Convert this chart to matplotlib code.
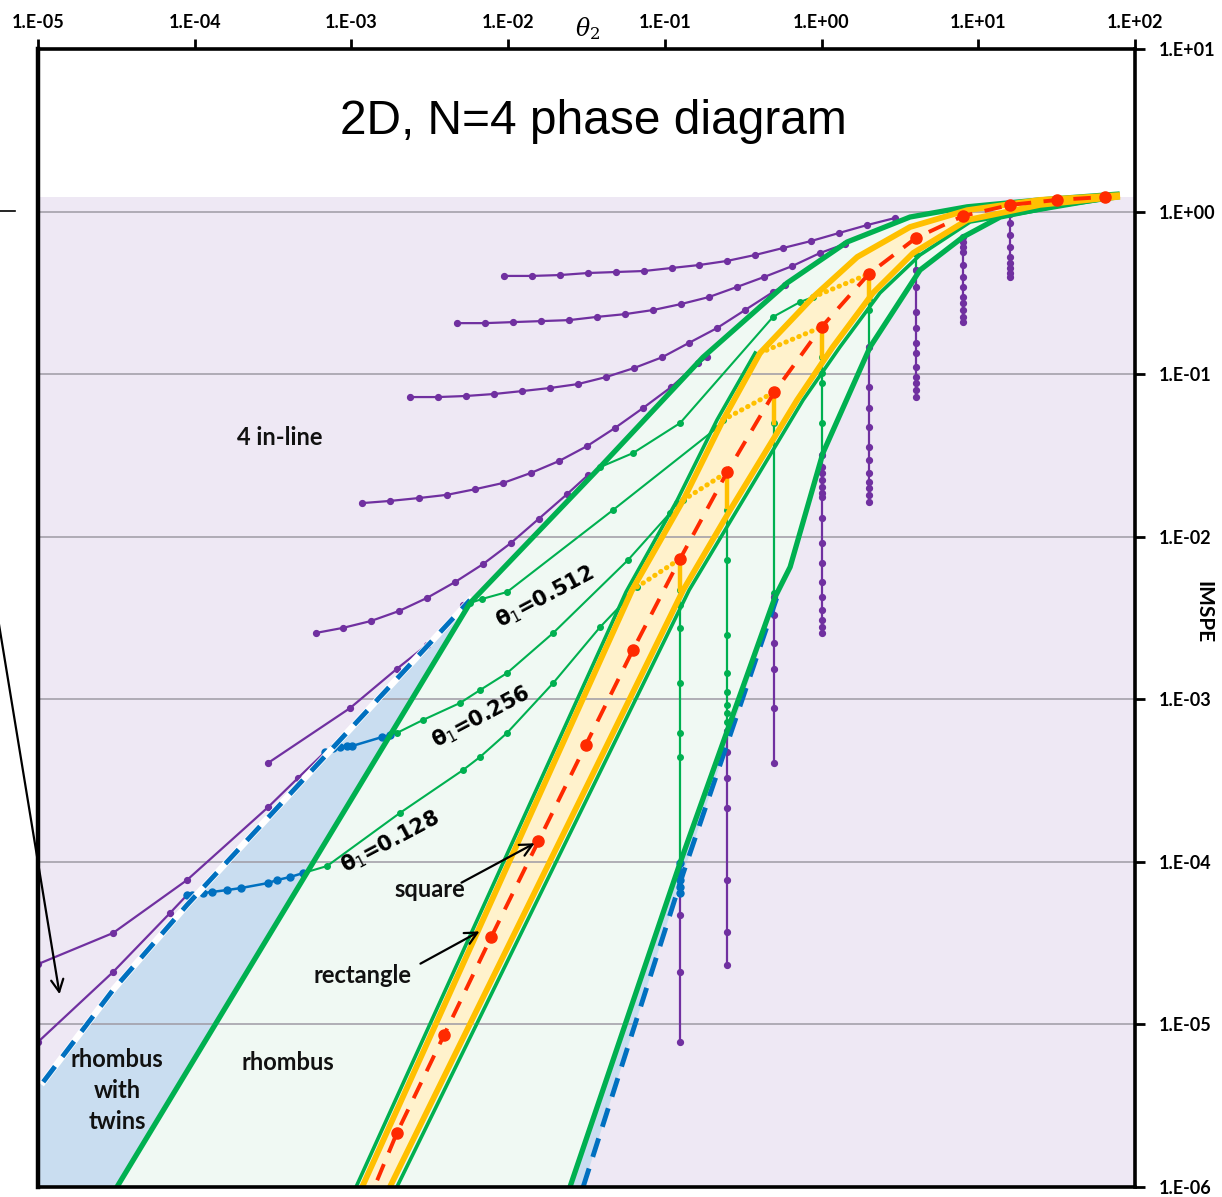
import matplotlib
matplotlib.use("Agg")
import matplotlib.pyplot as plt
import numpy as np

PURPLE = "#7030A0"
GREEN = "#00B050"
BLUE = "#0070C0"
ORANGE = "#FFC000"
RED = "#FF2A00"
LAVENDER = "#EEE8F4"
MINT = "#F0F9F3"
CREAM = "#FFF2CC"
SKY = "#C9DDF0"

# ---- phase boundaries (theta2, IMSPE) ----
g1_t2 = [3.19e-5, 5.71e-3, 3.86e-2, 0.175, 0.603, 1.455, 3.67, 8.49, 24.8, 76.9]
g1_im = [1e-6, 3.91e-3, 2.68e-2, 0.127, 0.364, 0.650, 0.926, 1.07, 1.18, 1.28]
g2_t2 = [2.48e-2, 0.125, 0.505, 0.630, 1.02, 2.04, 4.25, 8.0, 13.8, 33.3, 76.9]
g2_im = [1e-6, 9.84e-5, 4.26e-3, 6.51e-3, 3.27e-2, 0.147, 0.437, 0.698, 0.926, 1.10, 1.23]

# rectangle band
o1_t2 = [1.17e-3, 6.18e-2, 0.131, 0.235, 0.405, 0.883, 1.69, 3.67, 8.49, 24.8, 76.9]
o1_im = [1e-6, 4.70e-3, 1.68e-2, 5.22e-2, 0.135, 0.298, 0.526, 0.804, 1.02, 1.18, 1.26]
o2_t2 = [1.76e-3, 0.131, 0.261, 0.698, 1.18, 2.13, 3.84, 8.49, 24.8, 76.9]
o2_im = [1e-6, 4.70e-3, 1.46e-2, 6.93e-2, 0.147, 0.316, 0.556, 0.887, 1.10, 1.23]
g3_t2 = [1.07e-3, 5.65e-2, 0.120, 0.215, 0.377]
g3_im = [1e-6, 4.57e-3, 1.68e-2, 5.22e-2, 0.135]
g4_t2 = [1.95e-3, 0.143, 0.289, 0.762, 1.31, 2.36, 4.25, 8.87, 76.9]
g4_im = [1e-6, 4.70e-3, 1.46e-2, 6.93e-2, 0.147, 0.316, 0.541, 0.863, 1.23]

# twin boundaries (blue dashed)
dl_t2 = [1.08e-5, 3.01e-5, 8.93e-5, 1.46e-3, 5.71e-3]
dl_im = [4.43e-6, 1.63e-5, 5.43e-5, 9.9e-4, 4.08e-3]
dr_t2 = [3.01e-2, 0.131, 0.520]
dr_im = [1e-6, 8.53e-5, 4.26e-3]

# square solutions
sq_t2 = [0.00195, 0.0039, 0.0078, 0.0156, 0.0313, 0.0625, 0.125, 0.25, 0.5, 1, 2, 4, 8, 16, 32, 64]
sq_im = [2.15e-6, 8.61e-6, 3.45e-5, 1.34e-4, 5.24e-4, 2.01e-3, 7.30e-3, 2.50e-2, 7.76e-2,
         0.195, 0.413, 0.688, 0.94, 1.10, 1.18, 1.23]
sq_start_t2 = 1.46e-3
sq_start_im = 1.10e-6

# rectangle branches (left end, square point, bottom end)
vee_left_t2 = [6.65e-2, 0.131, 0.235, 0.405, 0.883]
vee_left_im = [4.91e-3, 1.68e-2, 5.22e-2, 0.135, 0.298]
vee_t2 = [0.125, 0.25, 0.5, 1, 2]
vee_top_im = [7.30e-3, 2.50e-2, 7.76e-2, 0.195, 0.413]
vee_bot_im = [4.70e-3, 1.52e-2, 5.0e-2, 0.127, 0.286]

# 4 in-line curves (fixed theta1)
c1_t2 = [9.41e-3, 1.42e-2, 2.14e-2, 3.24e-2, 4.89e-2, 7.36e-2, 0.111, 0.165, 0.249, 0.377, 0.568, 0.857, 1.29, 1.95, 2.94]
c1_im = [0.402, 0.402, 0.407, 0.419, 0.425, 0.431, 0.450, 0.469, 0.497, 0.541, 0.597, 0.659, 0.738, 0.826, 0.913]
c2_t2 = [4.72e-3, 7.13e-3, 1.07e-2, 1.62e-2, 2.45e-2, 3.69e-2, 5.57e-2, 8.41e-2, 0.127, 0.191, 0.289, 0.430, 0.649, 0.977, 1.41]
c2_im = [0.206, 0.206, 0.209, 0.212, 0.215, 0.225, 0.234, 0.248, 0.270, 0.298, 0.344, 0.396, 0.462, 0.556, 0.632]
c3_t2 = [2.37e-3, 3.57e-3, 5.38e-3, 8.13e-3, 1.23e-2, 1.85e-2, 2.79e-2, 4.22e-2, 6.35e-2, 9.6e-2, 0.143, 0.215, 0.325, 0.490, 0.585]
c3_im = [7.23e-2, 7.23e-2, 7.34e-2, 7.55e-2, 7.87e-2, 8.22e-2, 8.69e-2, 9.6e-2, 0.109, 0.127, 0.156, 0.192, 0.248, 0.320, 0.353]
c4_t2 = [1.17e-3, 1.76e-3, 2.70e-3, 4.07e-3, 6.15e-3, 9.27e-3, 1.40e-2, 2.11e-2, 3.19e-2, 4.81e-2, 7.26e-2, 0.110, 0.163, 0.186]
c4_im = [1.61e-2, 1.66e-2, 1.73e-2, 1.81e-2, 1.96e-2, 2.14e-2, 2.47e-2, 2.92e-2, 3.61e-2, 4.67e-2, 6.19e-2, 8.34e-2, 0.117, 0.127]
c5_t2 = [5.94e-4, 8.83e-4, 1.33e-3, 2.01e-3, 3.03e-3, 4.58e-3, 6.92e-3, 1.04e-2, 1.57e-2, 2.38e-2, 3.24e-2]
c5_im = [2.56e-3, 2.75e-3, 3.03e-3, 3.49e-3, 4.20e-3, 5.26e-3, 6.79e-3, 9.14e-3, 1.29e-2, 1.83e-2, 2.40e-2]
c6_t2 = [2.94e-4, 9.8e-4, 1.95e-3, 3.03e-3, 5.15e-3]
c6_im = [4.06e-4, 8.83e-4, 1.54e-3, 2.16e-3, 3.80e-3]
c7_t2 = [1.0e-5, 3.01e-5, 8.93e-5, 2.94e-4, 4.56e-4, 6.79e-4]
c7_im = [2.35e-5, 3.65e-5, 7.73e-5, 2.17e-4, 3.28e-4, 4.74e-4]
c8_t2 = [1.0e-5, 3.01e-5, 6.95e-5, 8.93e-5]
c8_im = [7.80e-6, 2.10e-5, 4.84e-5, 6.25e-5]

# rhombus-with-twins parts (blue)
b128_t2 = [8.93e-5, 9.62e-5, 1.13e-4, 1.29e-4, 1.61e-4, 1.97e-4, 2.94e-4, 3.35e-4, 4.06e-4, 4.91e-4]
b128_im = [6.25e-5, 6.25e-5, 6.43e-5, 6.53e-5, 6.71e-5, 6.90e-5, 7.41e-5, 7.73e-5, 8.07e-5, 8.53e-5]
b256_t2 = [6.79e-4, 7.64e-4, 8.45e-4, 9.38e-4, 1.01e-3, 1.57e-3, 1.76e-3]
b256_im = [4.74e-4, 5.01e-4, 5.08e-4, 5.16e-4, 5.16e-4, 5.86e-4, 6.03e-4]

# rhombus parts (thin green)
l128_t2 = [4.91e-4, 6.98e-4, 2.04e-3, 5.15e-3, 6.62e-3, 9.84e-3, 1.94e-2, 3.86e-2, 5.41e-2, 5.74e-2, 6.65e-2]
l128_im = [8.53e-5, 9.42e-5, 2.0e-4, 3.67e-4, 4.42e-4, 6.21e-4, 1.26e-3, 2.78e-3, 3.91e-3, 4.26e-3, 4.91e-3]
l256_t2 = [1.76e-3, 1.95e-3, 2.86e-3, 4.93e-3, 6.62e-3, 9.84e-3, 1.94e-2, 5.82e-2, 0.108, 0.120, 0.131]
l256_im = [6.03e-4, 6.21e-4, 7.46e-4, 9.49e-4, 1.14e-3, 1.45e-3, 2.56e-3, 7.19e-3, 1.40e-2, 1.61e-2, 1.68e-2]
l512_t2 = [5.71e-3, 6.81e-3, 9.84e-3, 4.67e-2, 0.215, 0.235]
l512_im = [3.91e-3, 4.14e-3, 4.57e-3, 1.46e-2, 4.67e-2, 5.22e-2]
l1024_t2 = [3.86e-2, 6.26e-2, 0.125, 0.490, 0.730, 0.883]
l1024_im = [2.68e-2, 3.27e-2, 5.0e-2, 0.225, 0.278, 0.298]

# fixed-theta2 scans: green (rhombus) part then purple (4 in-line) part
scan_t2 = [0.125, 0.25, 0.5, 1, 2, 4, 8, 16]
scan_green = [
    [4.70e-3, 3.80e-3, 2.74e-3, 1.26e-3, 6.21e-4, 4.42e-4, 9.84e-5],
    [1.46e-2, 7.19e-3, 2.48e-3, 1.45e-3, 1.11e-3, 9.23e-4, 8.24e-4, 7.24e-4, 6.38e-4],
    [5.0e-2, 4.51e-3, 4.26e-3],
    [0.127, 0.102, 8.83e-2, 5.0e-2, 3.18e-2],
    [0.286, 0.248, 0.147],
    [0.548, 0.437],
    [],
    [],
]
scan_purple = [
    [6.43e-5, 4.71e-5, 2.10e-5, 7.80e-6],
    [6.38e-4, 4.74e-4, 3.28e-4, 2.14e-4, 7.73e-5, 3.71e-5, 2.32e-5],
    [4.26e-3, 3.30e-3, 2.22e-3, 1.54e-3, 8.83e-4, 4.06e-4],
    [3.18e-2, 2.68e-2, 2.47e-2, 2.23e-2, 2.02e-2, 1.86e-2, 1.75e-2, 1.30e-2, 9.14e-3,
     6.89e-3, 5.26e-3, 4.26e-3, 3.54e-3, 3.08e-3, 2.78e-3, 2.56e-3],
    [0.147, 8.34e-2, 6.19e-2, 4.73e-2, 3.56e-2, 2.96e-2, 2.47e-2, 2.17e-2, 2.0e-2, 1.81e-2, 1.64e-2],
    [0.437, 0.344, 0.241, 0.192, 0.156, 0.135, 0.111, 9.6e-2, 8.83e-2, 7.98e-2, 7.23e-2],
    [0.698, 0.650, 0.605, 0.564, 0.469, 0.396, 0.344, 0.298, 0.274, 0.248, 0.225, 0.209],
    [0.966, 0.851, 0.718, 0.605, 0.526, 0.483, 0.450, 0.419, 0.396],
]
twin_scan_t2 = 0.125
twin_scan_im = [9.84e-5, 8.53e-5, 7.73e-5, 7.0e-5, 6.43e-5]

x_ticks = [1e-5, 1e-4, 1e-3, 1e-2, 1e-1, 1e0, 1e1, 1e2]
x_labels = ["1.E-05", "1.E-04", "1.E-03", "1.E-02", "1.E-01", "1.E+00", "1.E+01", "1.E+02"]
y_ticks = [1e-6, 1e-5, 1e-4, 1e-3, 1e-2, 1e-1, 1e0, 1e1]
y_labels = ["1.E-06", "1.E-05", "1.E-04", "1.E-03", "1.E-02", "1.E-01", "1.E+00", "1.E+01"]

LABEL_FONT = "Lato"

fig = plt.figure(figsize=(12.22, 11.97), dpi=100)
ax = fig.add_axes([0.0311, 0.00835, 0.8977, 0.9507])
ax.set_xscale("log")
ax.set_yscale("log")
ax.set_xlim(1e-5, 1e2)
ax.set_ylim(1e-6, 1e1)

# background regions
ax.axhspan(1e-6, 1.23, color=LAVENDER, lw=0, zorder=0.5)
ax.fill(np.r_[g1_t2, g2_t2[::-1]], np.r_[g1_im, g2_im[::-1]], color=MINT, lw=0, zorder=1)
ax.fill(np.r_[[1e-5], dl_t2, [g1_t2[1], g1_t2[0]], [1e-5]],
        np.r_[[dl_im[0]], dl_im, [g1_im[1], g1_im[0]], [1e-6]], color=SKY, lw=0, zorder=1)
ax.fill(np.r_[g2_t2[:3], dr_t2[::-1]], np.r_[g2_im[:3], dr_im[::-1]], color=SKY, lw=0, zorder=1)
ax.fill(np.r_[o1_t2, o2_t2[::-1]], np.r_[o1_im, o2_im[::-1]], color=CREAM, lw=0, zorder=1.2)

for yv in y_ticks[1:-1]:
    ax.axhline(yv, color="#9E9AA4", lw=1.1, zorder=1.5)

# purple 4 in-line curves
for xs, ys in [(c1_t2, c1_im), (c2_t2, c2_im), (c3_t2, c3_im), (c4_t2, c4_im),
               (c5_t2, c5_im), (c6_t2, c6_im), (c7_t2, c7_im), (c8_t2, c8_im)]:
    ax.plot(xs, ys, color=PURPLE, lw=1.6, marker="o", ms=4.2, zorder=3)

# fixed-theta2 scans
for t, gy, py in zip(scan_t2, scan_green, scan_purple):
    if gy:
        ax.plot([t] * len(gy), gy, color=GREEN, lw=1.6, marker="o", ms=4, zorder=3)
    ax.plot([t] * len(py), py, color=PURPLE, lw=1.6, marker="o", ms=4.2, zorder=3)
ax.plot([twin_scan_t2] * len(twin_scan_im), twin_scan_im, color=BLUE, lw=2, marker="o", ms=5, zorder=3.2)

# blue twin segments and thin green rhombus lines
for xs, ys in [(b128_t2, b128_im), (b256_t2, b256_im)]:
    ax.plot(xs, ys, color=BLUE, lw=1.8, marker="o", ms=5, zorder=3.2)
for xs, ys in [(l128_t2, l128_im), (l256_t2, l256_im), (l512_t2, l512_im), (l1024_t2, l1024_im)]:
    ax.plot(xs, ys, color=GREEN, lw=1.5, marker="o", ms=4, zorder=3.1)

# blue dashed twin boundaries
ax.plot(dl_t2, dl_im, color="white", lw=4.6, zorder=3.3)
ax.plot(dl_t2, dl_im, color=BLUE, lw=3.5, ls=(0, (4, 2.5)), zorder=3.4)
ax.plot(dr_t2, dr_im, color=BLUE, lw=3.5, ls=(0, (4, 2.5)), zorder=3.4)

# thick green phase boundaries
ax.plot(g1_t2, g1_im, color=GREEN, lw=3.8, zorder=4, solid_joinstyle="round")
ax.plot(g2_t2, g2_im, color=GREEN, lw=3.8, zorder=4, solid_joinstyle="round")
ax.plot(g3_t2, g3_im, color=GREEN, lw=2.6, zorder=4)
ax.plot(g4_t2, g4_im, color=GREEN, lw=2.6, zorder=4)

# rectangle band
ax.plot(o1_t2, o1_im, color=ORANGE, lw=4.2, zorder=5, solid_joinstyle="round")
ax.plot(o2_t2, o2_im, color=ORANGE, lw=4.2, zorder=5, solid_joinstyle="round")
for xl, yl, t, yt, yb in zip(vee_left_t2, vee_left_im, vee_t2, vee_top_im, vee_bot_im):
    ax.plot([xl, t], [yl, yt], color=ORANGE, lw=3.6, ls=(0, (0.1, 1.3)),
            dash_capstyle="round", zorder=5.2)
    ax.plot([t, t], [yt, yb], color=ORANGE, lw=3.2, zorder=5.2)

# square line
ax.plot([sq_start_t2] + sq_t2, [sq_start_im] + sq_im, color=RED, lw=2.8,
        ls=(0, (4.5, 3.2)), zorder=6)
ax.plot(sq_t2, sq_im, ls="none", marker="o", ms=8, color=RED, zorder=6.2)

# axes styling
ax.spines["left"].set_linewidth(3.2)
for side in ["top", "right", "bottom"]:
    ax.spines[side].set_linewidth(2.6)
for s in ax.spines.values():
    s.set_zorder(10)
ax.xaxis.tick_top()
ax.yaxis.tick_right()
ax.set_xticks(x_ticks)
ax.set_xticklabels(x_labels)
ax.set_yticks(y_ticks)
ax.set_yticklabels(y_labels)
ax.minorticks_off()
ax.tick_params(axis="both", direction="out", length=7, width=2)
for lab in ax.get_xticklabels() + ax.get_yticklabels():
    lab.set_fontfamily(LABEL_FONT)
    lab.set_fontweight("bold")
    lab.set_fontsize(13)
ax.tick_params(axis="x", pad=6)
ax.tick_params(axis="y", pad=10)

ax.text(0.5014, 1.006, r"$\theta_2$", transform=ax.transAxes, ha="center", va="bottom",
        fontsize=17, math_fontfamily="dejavuserif")
ax.text(1.062, 0.505, "IMSPE", transform=ax.transAxes, rotation=-90, ha="center", va="center",
        fontsize=15, fontweight="bold", family=LABEL_FONT)

ax.text(0.506, 0.936, "2D, N=4 phase diagram", transform=ax.transAxes, ha="center", va="center",
        fontsize=34.5, family="Liberation Sans", zorder=8)

lab_kw = dict(transform=ax.transAxes, ha="center", va="center", fontsize=17,
              fontweight="bold", family=LABEL_FONT, color="#111111", zorder=8)
ax.text(0.2206, 0.6582, "4 in-line", **lab_kw)
ax.text(0.072, 0.0852, "rhombus\nwith\ntwins", linespacing=1.42, **lab_kw)
ax.text(0.2279, 0.109, "rhombus", **lab_kw)
ax.text(0.357, 0.261, "square", **lab_kw)
ax.text(0.296, 0.186, "rectangle", **lab_kw)

th_kw = dict(transform=ax.transAxes, ha="center", va="center", fontsize=15,
             fontweight="bold", family="DejaVu Sans", rotation=28, zorder=8)
ax.text(0.462, 0.518, r"θ$_1$=0.512", **th_kw)
ax.text(0.404, 0.413, r"θ$_1$=0.256", **th_kw)
ax.text(0.321, 0.303, r"θ$_1$=0.128", **th_kw)

arr = dict(arrowstyle="->", color="black", lw=1.6, mutation_scale=22)
ax.annotate("", xy=(0.4549, 0.3032), xytext=(0.3838, 0.2663), xycoords="axes fraction",
            textcoords="axes fraction", arrowprops=arr, zorder=8)
ax.annotate("", xy=(0.4047, 0.2258), xytext=(0.3464, 0.1951), xycoords="axes fraction",
            textcoords="axes fraction", arrowprops=arr, zorder=8)
ax.annotate("", xy=(0.0201, 0.167), xytext=(-0.0392, 0.5158), xycoords="axes fraction",
            textcoords="axes fraction", arrowprops=arr, annotation_clip=False, zorder=8)
ax.plot([-0.0346, -0.021], [0.8577, 0.8577], color="black", lw=1.2,
        transform=ax.transAxes, clip_on=False)

fig.savefig("out.png", dpi=100)
